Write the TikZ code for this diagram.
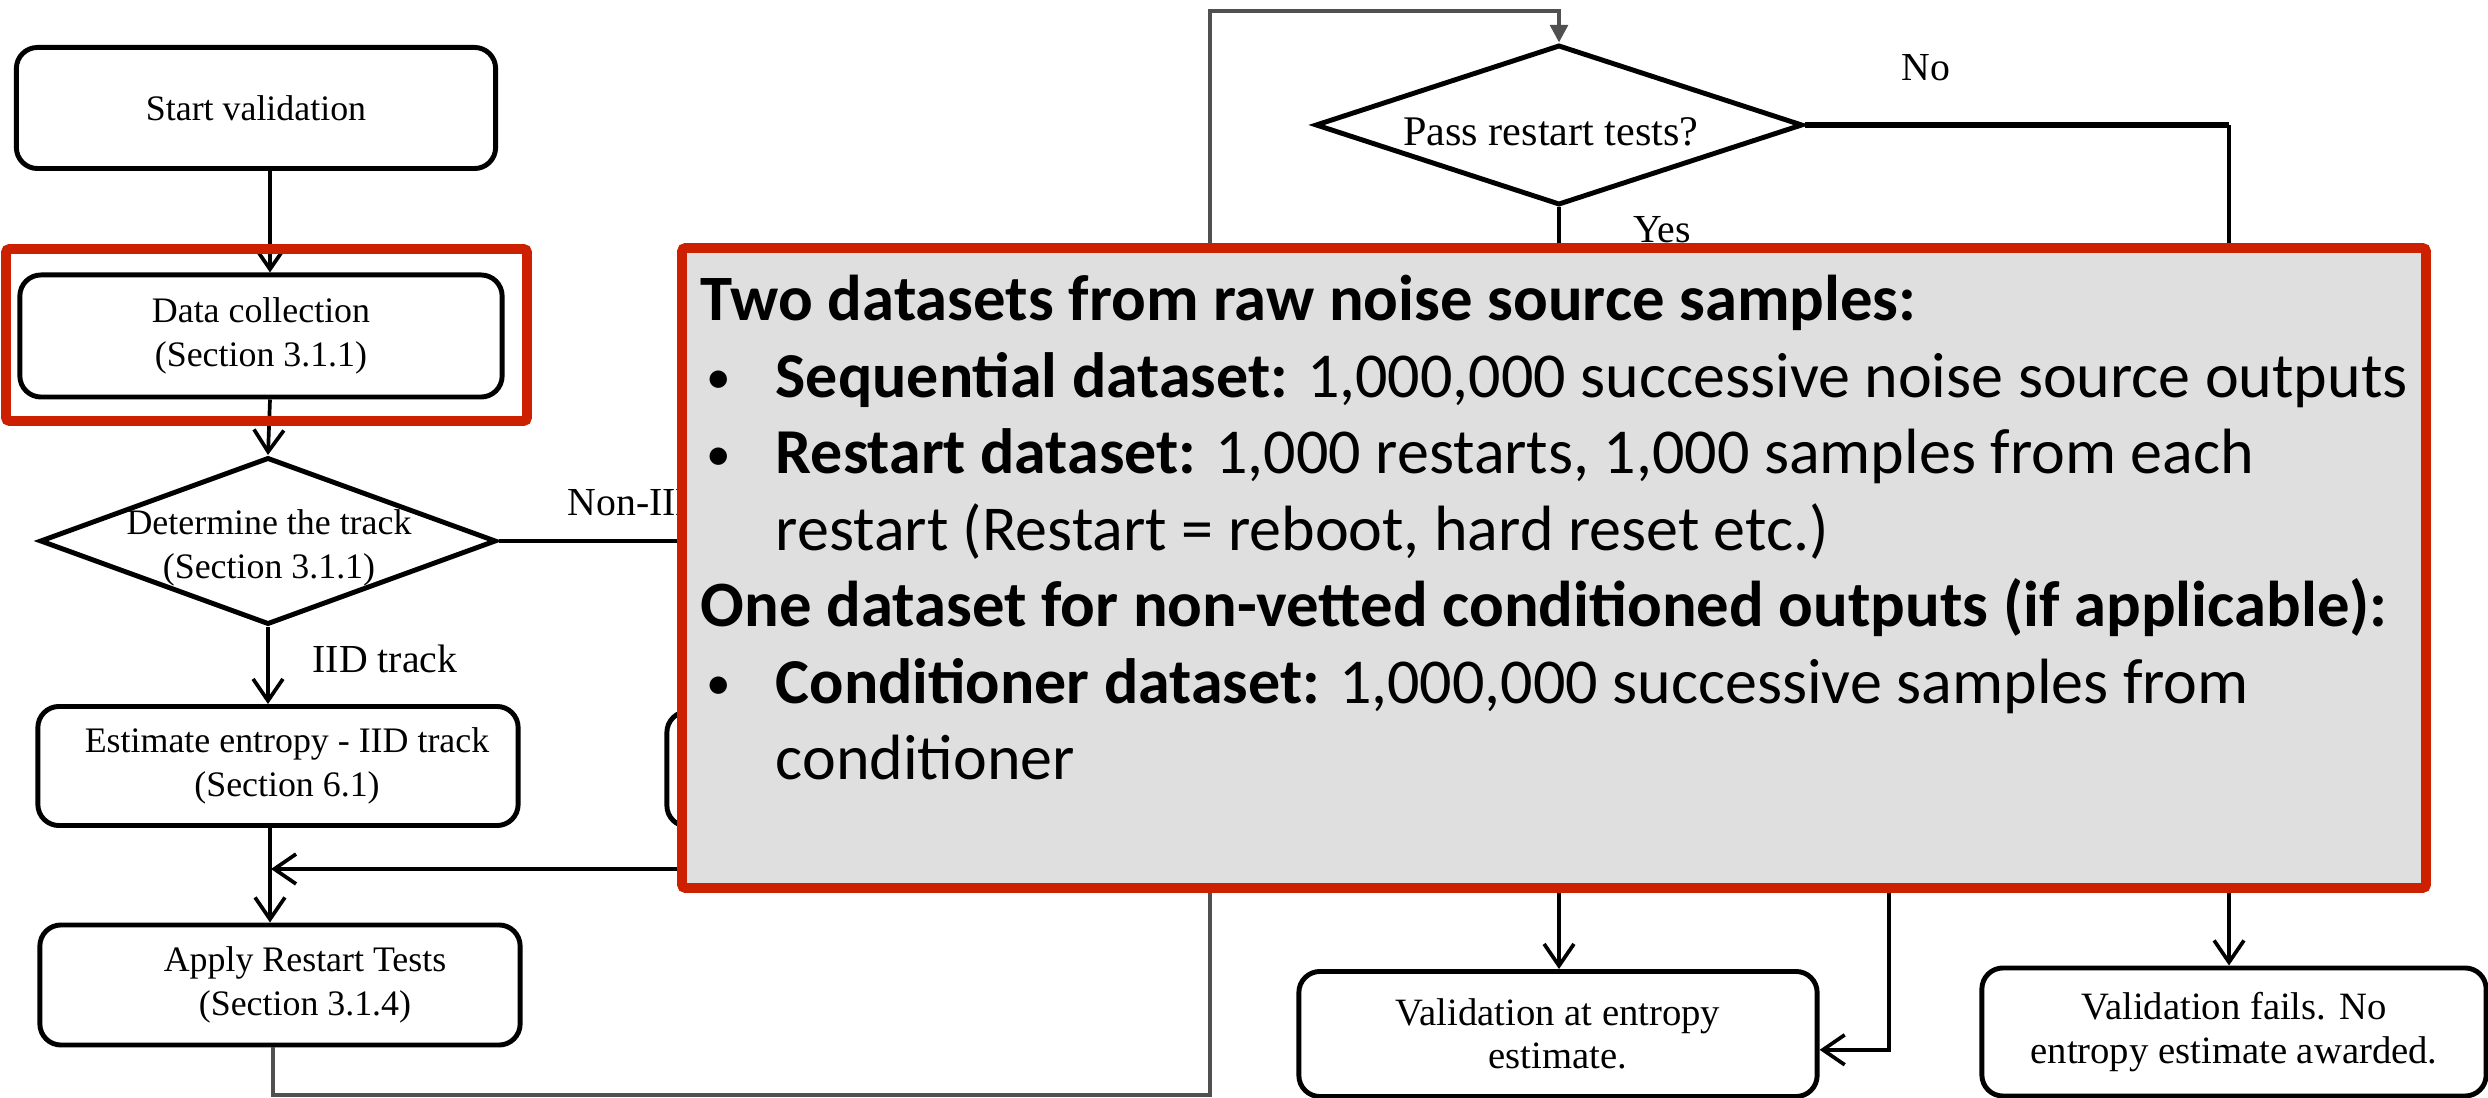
\documentclass[tikz,border=0pt]{standalone}
\usepackage{fontspec}
\setmainfont{Liberation Serif}
\newfontfamily\calfont{Carlito}
\usetikzlibrary{arrows.meta,shapes.geometric}
\definecolor{hlred}{RGB}{204,32,0}
\definecolor{boxgray}{RGB}{223,223,223}
\definecolor{retgray}{RGB}{80,80,80}
\tikzset{
  flowbox/.style={draw, line width=1.4pt, rounded corners=6pt, align=center, inner sep=0pt,
    font=\fontsize{10.2}{12.4}\selectfont},
  rbox/.style={flowbox, font=\fontsize{11}{12.4}\selectfont},
  dia/.style={diamond, draw, line width=1.4pt, inner sep=0pt},
  ftxt/.style={align=center, inner sep=0pt, font=\fontsize{10.2}{12.4}\selectfont},
  lbl/.style={inner sep=0pt, font=\fontsize{11.3}{13}\selectfont},
  conn/.style={line width=1.05pt},
  arr/.style={conn, -{Straight Barb[length=6.2pt,width=8.5pt]}},
  ret/.style={line width=1.1pt, draw=retgray, -{Triangle[length=5pt,width=5pt,fill=retgray]}},
  redframe/.style={draw=hlred, line width=2.8pt, rounded corners=1pt},
  gtxt/.style={anchor=base west, inner sep=0pt, font=\calfont\fontsize{18.2}{21}\selectfont},
  gbold/.style={gtxt, font=\calfont\bfseries\fontsize{18.4}{21}\selectfont},
  gbul/.style={anchor=base west, inner sep=0pt, font=\calfont\fontsize{14}{16}\selectfont},
}
\begin{document}
\begin{tikzpicture}[x=0.01cm, y=-0.01cm]
\useasboundingbox (0,0) rectangle (2488,1098);
\fill[white] (0,0) rectangle (2488,1098);

% ---- left column ----
\coordinate (cA) at (270,0);
\node[flowbox, minimum width=4.79cm, minimum height=1.21cm] (start) at (256,108) {Start validation};
\node[flowbox, minimum width=4.82cm, minimum height=1.22cm] (data) at (261,336) {Data collection\\(Section 3.1.1)};
\node[dia, minimum width=4.56cm, minimum height=1.67cm] (det) at (268,541) {};
\node[ftxt] (dettxt) at (269,548) {Determine the track\\(Section 3.1.1)};
\node[flowbox, minimum width=4.80cm, minimum height=1.19cm] (est) at (278,766) {\hspace*{0.18cm}Estimate entropy - IID track\\\hspace*{0.18cm}(Section 6.1)};
\node[flowbox, minimum width=4.86cm, minimum height=1.15cm] (nonIID) at (910,769) {};
\node[flowbox, minimum width=4.80cm, minimum height=1.20cm] (apply) at (280,985) {\hspace*{0.5cm}Apply Restart Tests\\\hspace*{0.5cm}(Section 3.1.4)};

\node[lbl, anchor=west] (nonlbl) at (567,503) {Non-IID};
\node[lbl, anchor=west] (iidlbl) at (312,659) {IID track};

\draw[arr] (start.south -| cA) -- (data.north -| cA);
\draw[arr] (data.south -| cA) -- (det.north);
\draw[arr] (det.south) -- (est.north -| det.south);
\draw[arr] (det.east) -| (nonIID.north);
\draw[arr] (est.south -| cA) -- (apply.north -| cA);
\coordinate (jn) at (271,869);
\draw[arr] (nonIID.south) |- (jn);

% ---- right part ----
\node[dia, minimum width=4.87cm, minimum height=1.60cm] (pass) at (1559,125) {};
\node[ftxt, font=\fontsize{12}{13}\selectfont] (passtxt) at (1551,132) {Pass restart tests?};
\node[rbox, minimum width=5.18cm, minimum height=1.25cm] (valid) at (1558,1034) {Validation at entropy\\estimate.};
\node[rbox, minimum width=5.04cm, minimum height=1.28cm] (fails) at (2234,1032) {Validation fails. No\\entropy estimate awarded.};
\node[lbl] (nolbl) at (1926,68) {No};
\node[lbl] (yeslbl) at (1662,230) {Yes};

\coordinate (r1) at (273,1095);
\coordinate (r2) at (1210,1095);
\coordinate (r3) at (1210,11);
\draw[ret] (apply.south -| r1) -- (r1) -- (r2) -- (r3) -| (pass.north);

\coordinate (nc) at (2229,125);
\draw[conn, line width=1.6pt] (pass.east) -- (nc);
\draw[arr] (nc) -- (fails.north -| nc);
\draw[arr] (pass.south) -- (valid.north -| pass.south);
\coordinate (hid) at (1889,700);
\draw[arr] (hid) |- ([yshift=-4.5pt]valid.east);

% ---- highlight frames ----
\draw[redframe] (6,249) rectangle (527,421);
\draw[redframe, fill=boxgray] (682,248) rectangle (2426,888);

\node[gbold] (t1) at (700,321) {Two datasets from raw noise source samples:};
\node[gbul] (b2) at (706,394) {•};
\node[gtxt] (t2) at (775,397.5) {\textbf{Sequential dataset:} 1,000,000 successive noise source outputs};
\node[gbul] (b3) at (706,470.5) {•};
\node[gtxt] (t3) at (775,474) {\textbf{Restart dataset:} 1,000 restarts, 1,000 samples from each};
\node[gtxt] (t4) at (775,550.5) {restart (Restart = reboot, hard reset etc.)};
\node[gbold] (t5) at (700,627) {One dataset for non-vetted conditioned outputs (if applicable):};
\node[gbul] (b6) at (706,700) {•};
\node[gtxt] (t6) at (775,703.5) {\textbf{Conditioner dataset:} 1,000,000 successive samples from};
\node[gtxt] (t7) at (775,780) {conditioner};
\end{tikzpicture}
\end{document}
